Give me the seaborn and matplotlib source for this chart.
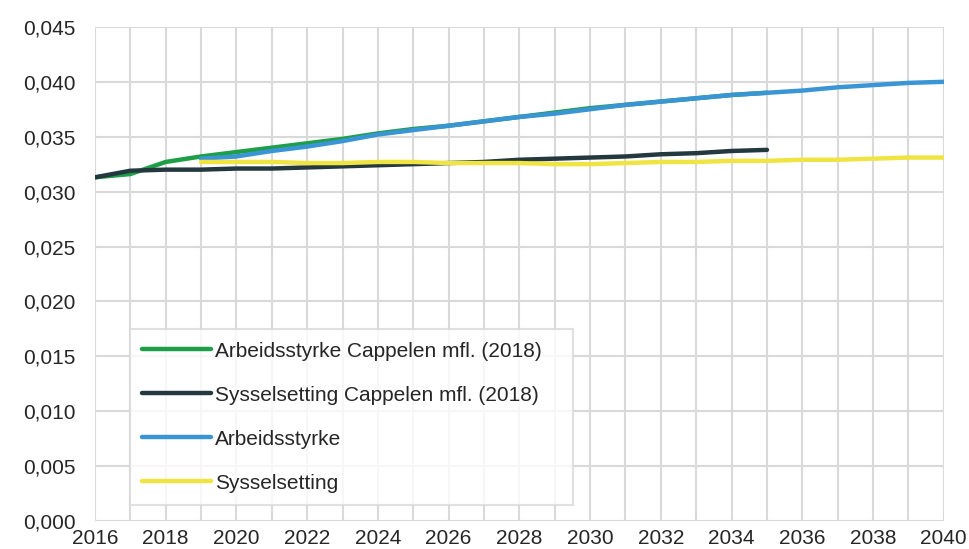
import numpy as np
import pandas as pd
import matplotlib
matplotlib.use('Agg')
import matplotlib.pyplot as plt
from matplotlib.ticker import FuncFormatter, MultipleLocator
import seaborn as sns

# data
years_cappelen = list(range(2016, 2036))
arbeid_cappelen = [0.0313, 0.0316, 0.0327, 0.0332, 0.0336, 0.0340, 0.0344, 0.0348, 0.0353,
                   0.0357, 0.0360, 0.0364, 0.0368, 0.0372, 0.0376, 0.0379, 0.0382, 0.0385,
                   0.0388, 0.0390]
syssel_cappelen = [0.0313, 0.0319, 0.0320, 0.0320, 0.0321, 0.0321, 0.0322, 0.0323, 0.0324,
                   0.0325, 0.0326, 0.0327, 0.0329, 0.0330, 0.0331, 0.0332, 0.0334, 0.0335,
                   0.0337, 0.0338]
years_new = list(range(2019, 2041))
arbeid_new = [0.0330, 0.0332, 0.0337, 0.0341, 0.0346, 0.0352, 0.0356, 0.0360, 0.0364,
              0.0368, 0.0371, 0.0375, 0.0379, 0.0382, 0.0385, 0.0388, 0.0390, 0.0392,
              0.0395, 0.0397, 0.0399, 0.0400]
syssel_new = [0.0327, 0.0327, 0.0327, 0.0326, 0.0326, 0.0327, 0.0327, 0.0326, 0.0326,
              0.0326, 0.0325, 0.0325, 0.0326, 0.0327, 0.0327, 0.0328, 0.0328, 0.0329,
              0.0329, 0.0330, 0.0331, 0.0331]

labels = ['Arbeidsstyrke Cappelen mfl. (2018)', 'Sysselsetting Cappelen mfl. (2018)',
          'Arbeidsstyrke', 'Sysselsetting']
colors = ['#1f9e48', '#24393f', '#3a95d4', '#f0e442']

df = pd.concat([
    pd.DataFrame({'År': years_cappelen, 'Verdi': arbeid_cappelen, 'Serie': labels[0]}),
    pd.DataFrame({'År': years_cappelen, 'Verdi': syssel_cappelen, 'Serie': labels[1]}),
    pd.DataFrame({'År': years_new, 'Verdi': arbeid_new, 'Serie': labels[2]}),
    pd.DataFrame({'År': years_new, 'Verdi': syssel_new, 'Serie': labels[3]}),
])

sns.set_theme(style='white')
plt.rcParams['font.family'] = ['Liberation Sans', 'DejaVu Sans']

fig = plt.figure(figsize=(9.69, 5.49), dpi=100)
ax = fig.add_axes([0.098, 0.051, 0.876, 0.900])

sns.lineplot(data=df, x='År', y='Verdi', hue='Serie', hue_order=labels,
             palette=dict(zip(labels, colors)), linewidth=3.2, ax=ax,
             solid_capstyle='round')

ax.set_xlim(2016, 2040)
ax.set_ylim(0, 0.045)
ax.xaxis.set_major_locator(MultipleLocator(2))
ax.xaxis.set_minor_locator(MultipleLocator(1))
ax.yaxis.set_major_locator(MultipleLocator(0.005))
ax.yaxis.set_major_formatter(FuncFormatter(lambda v, p: f'{v:.3f}'.replace('.', ',')))
ax.grid(True, which='both', axis='x', color='#d9d9d9', linewidth=1.5)
ax.grid(True, which='major', axis='y', color='#d9d9d9', linewidth=1.5)
ax.set_axisbelow(True)
for s in ax.spines.values():
    s.set_visible(False)
ax.tick_params(axis='both', which='both', length=0, labelsize=15, colors='#262626')
ax.tick_params(axis='x', pad=6)
ax.tick_params(axis='y', pad=14)
ax.set_xlabel('')
ax.set_ylabel('')

leg = ax.legend(loc='lower left', bbox_to_anchor=(0.041, 0.032, 0.522, 0.344),
                mode='expand', fontsize=15, frameon=True, fancybox=False,
                labelspacing=1.2, handlelength=3.3, handletextpad=0.2,
                borderpad=0.6, borderaxespad=0)
leg.get_frame().set_edgecolor('#d9d9d9')
leg.get_frame().set_linewidth(1.5)
for t in leg.get_texts():
    t.set_color('#262626')

fig.savefig('out.png', dpi=100)
